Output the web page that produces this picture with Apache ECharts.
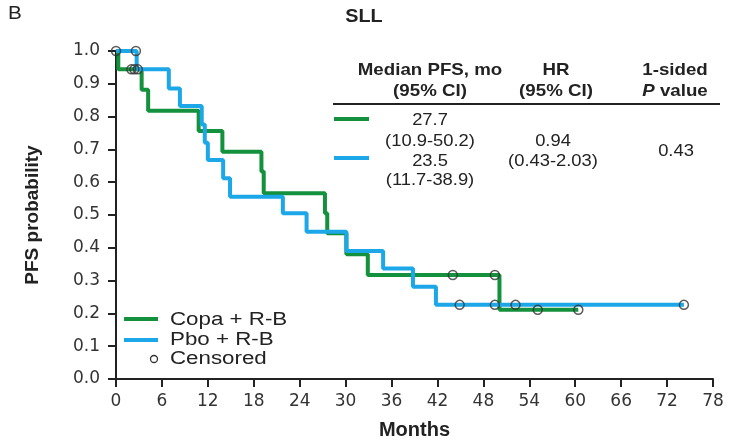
<!DOCTYPE html>
<html>
<head>
<meta charset="utf-8">
<script src="https://cdn.jsdelivr.net/npm/echarts@6/dist/echarts.min.js"></script>
<style>
  html, body { margin: 0; padding: 0; background: #fff; }
  #chart { width: 735px; height: 442px; }
</style>
</head>
<body>
<div id="chart"></div>
<script>
// Kaplan-Meier steps (months, PFS probability)
const copaTimes = [0, 0.3, 3.35, 4.2, 10.8, 13.9, 19.0, 19.3, 27.3, 27.6, 30.1, 32.9, 50.1, 60.4];
const copaSurv = [1.0, 0.944, 0.882, 0.818, 0.756, 0.693, 0.633, 0.566, 0.505, 0.444, 0.38, 0.317, 0.211, 0.211];
const pboTimes = [0, 2.7, 6.9, 8.35, 11.2, 11.6, 12.0, 14.0, 14.9, 21.8, 24.9, 30.1, 34.9, 38.8, 41.8, 74.2];
const pboSurv = [1.0, 0.944, 0.886, 0.832, 0.776, 0.72, 0.668, 0.612, 0.556, 0.505, 0.449, 0.39, 0.337, 0.281, 0.226, 0.226];

// censored observations
const copaCensTimes = [0, 2.0, 2.4, 44.0, 49.5, 55.1, 60.4];
const copaCensSurv = [1.0, 0.944, 0.944, 0.317, 0.317, 0.211, 0.211];
const pboCensTimes = [2.6, 2.85, 44.9, 49.5, 52.2, 74.2];
const pboCensSurv = [1.0, 0.944, 0.226, 0.226, 0.226, 0.226];

const monthTicks = [0, 6, 12, 18, 24, 30, 36, 42, 48, 54, 60, 66, 72, 78];
const seriesNames = ["Copa + R-B", "Pbo + R-B"];
const tableHeaders = [["Median PFS, mo", "(95% CI)"], ["HR", "(95% CI)"], ["1-sided", "P value"]];
const medianRows = [["27.7", "(10.9-50.2)"], ["23.5", "(11.7-38.9)"]];
const hrText = ["0.94", "(0.43-2.03)"];
const pText = "0.43";

const GREEN = "#13913d";
const BLUE = "#1ba7e8";
const FONT = "'Liberation Sans', Arial, Helvetica, sans-serif";
const TICK_FONT = "'DejaVu Sans', sans-serif";

const zip = (xs, ys) => xs.map((x, i) => [x, ys[i]]);

const chart = echarts.init(document.getElementById("chart"));

// the source figure is slightly stretched horizontally, hence scaleX
const txt = (x, y, text, opts = {}) => ({
  type: "text",
  x: x,
  y: y,
  scaleX: opts.sx || 1.08,
  style: {
    text: text,
    fill: "#222",
    font: (opts.bold ? "bold " : "") + (opts.size || 17) + "px " + FONT,
    textAlign: opts.align || "center",
    textVerticalAlign: "middle",
  },
});

const seg = (x1, y1, x2, y2, color, w) => ({
  type: "line",
  shape: { x1: x1, y1: y1, x2: x2, y2: y2 },
  style: { stroke: color, lineWidth: w },
});

const graphics = [
  txt(8, 14, "B", { size: 18, align: "left", sx: 1.15 }),
  txt(364, 17, "SLL", { size: 18, bold: true, sx: 1.1 }),
  // table
  txt(430, 70, tableHeaders[0][0], { bold: true, sx: 1.1 }),
  txt(430, 91, tableHeaders[0][1], { bold: true, sx: 1.1 }),
  txt(556, 70, tableHeaders[1][0], { bold: true, sx: 1.1 }),
  txt(556, 91, tableHeaders[1][1], { bold: true, sx: 1.1 }),
  txt(675, 70, tableHeaders[2][0], { bold: true, sx: 1.1 }),
  {
    type: "text",
    x: 675,
    y: 91,
    scaleX: 1.1,
    style: {
      rich: {
        i: { font: "bold italic 17px " + FONT, fill: "#222" },
        b: { font: "bold 17px " + FONT, fill: "#222" },
      },
      text: "{i|P}{b| value}",
      textAlign: "center",
      textVerticalAlign: "middle",
    },
  },
  seg(333, 104, 720, 104, "#222", 2),
  seg(334, 119, 369, 119, GREEN, 4),
  seg(334, 158, 369, 158, BLUE, 4),
  txt(430, 120, medianRows[0][0]),
  txt(430, 141, medianRows[0][1]),
  txt(430, 161, medianRows[1][0]),
  txt(430, 180, medianRows[1][1]),
  txt(553, 141, hrText[0]),
  txt(553, 161, hrText[1]),
  txt(676, 151, pText),
  // legend
  seg(124, 319, 158, 319, GREEN, 4),
  seg(124, 340, 158, 340, BLUE, 4),
  {
    type: "circle",
    shape: { cx: 154, cy: 359, r: 3.5 },
    style: { fill: "none", stroke: "#333", lineWidth: 1.3 },
  },
  txt(170, 320, seriesNames[0], { size: 18, align: "left", sx: 1.24 }),
  txt(170, 340, seriesNames[1], { size: 18, align: "left", sx: 1.24 }),
  txt(170, 359, "Censored", { size: 18, align: "left", sx: 1.24 }),
];

const censorStyle = {
  color: "rgba(0,0,0,0)",
  borderColor: "#333",
  borderWidth: 1.5,
};

const options = {
  animation: false,
  grid: {
    left: 116,
    right: 22,
    top: 51,
    bottom: 63,
    outerBoundsMode: "none",
  },
  xAxis: {
    type: "value",
    min: 0,
    max: 78,
    interval: 6,
    name: "Months",
    nameLocation: "middle",
    nameGap: 41,
    nameTextStyle: { fontFamily: FONT, fontSize: 20, fontWeight: "bold", color: "#222" },
    axisLine: { lineStyle: { color: "#222", width: 2 } },
    axisTick: { length: 8, lineStyle: { color: "#222", width: 2 } },
    axisLabel: {
      fontFamily: TICK_FONT,
      fontSize: 17,
      color: "#333",
      margin: 14,
      customValues: monthTicks,
    },
    splitLine: { show: false },
  },
  yAxis: {
    type: "value",
    min: 0,
    max: 1,
    interval: 0.1,
    name: "PFS probability",
    nameLocation: "middle",
    nameGap: 74,
    nameTextStyle: { fontFamily: FONT, fontSize: 19, fontWeight: "bold", color: "#222" },
    axisLine: { show: true, lineStyle: { color: "#222", width: 2 } },
    axisTick: { show: true, length: 8, lineStyle: { color: "#222", width: 2 } },
    axisLabel: {
      fontFamily: TICK_FONT,
      fontSize: 17,
      color: "#333",
      margin: 16,
      formatter: (v) => v.toFixed(1),
    },
    splitLine: { show: false },
  },
  series: [
    {
      name: seriesNames[0],
      type: "line",
      step: "end",
      data: zip(copaTimes, copaSurv),
      showSymbol: false,
      lineStyle: { color: GREEN, width: 4 },
      z: 2,
    },
    {
      name: seriesNames[1],
      type: "line",
      step: "end",
      data: zip(pboTimes, pboSurv),
      showSymbol: false,
      lineStyle: { color: BLUE, width: 4 },
      z: 3,
    },
    {
      name: "Censored",
      type: "scatter",
      data: zip(copaCensTimes, copaCensSurv).concat(zip(pboCensTimes, pboCensSurv)),
      symbol: "circle",
      symbolSize: 9,
      itemStyle: censorStyle,
      z: 4,
    },
  ],
  graphic: graphics,
};

chart.setOption(options);
</script>
</body>
</html>
